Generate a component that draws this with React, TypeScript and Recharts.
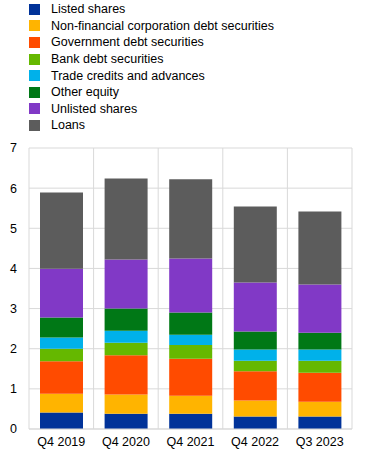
import React from "react";
import { BarChart, Bar, XAxis, YAxis, CartesianGrid, Legend } from "recharts";

const categories = ["Q4 2019", "Q4 2020", "Q4 2021", "Q4 2022", "Q3 2023"];
const listedShares = [0.41, 0.38, 0.38, 0.31, 0.31];
const nfcDebt = [0.47, 0.48, 0.45, 0.4, 0.37];
const govDebt = [0.81, 0.98, 0.92, 0.73, 0.72];
const bankDebt = [0.31, 0.31, 0.34, 0.26, 0.3];
const tradeCredits = [0.28, 0.3, 0.26, 0.28, 0.28];
const otherEquity = [0.5, 0.55, 0.55, 0.45, 0.42];
const unlistedShares = [1.21, 1.22, 1.35, 1.22, 1.2];
const loans = [1.9, 2.02, 1.97, 1.89, 1.82];
const yTicks = [0, 1, 2, 3, 4, 5, 6, 7];

const series = [
  { key: "listed", name: "Listed shares", values: listedShares, color: "#003299" },
  { key: "nfc", name: "Non-financial corporation debt securities", values: nfcDebt, color: "#FFB400" },
  { key: "gov", name: "Government debt securities", values: govDebt, color: "#FF4B00" },
  { key: "bank", name: "Bank debt securities", values: bankDebt, color: "#65B800" },
  { key: "trade", name: "Trade credits and advances", values: tradeCredits, color: "#00B1EA" },
  { key: "other", name: "Other equity", values: otherEquity, color: "#007816" },
  { key: "unlisted", name: "Unlisted shares", values: unlistedShares, color: "#8139C6" },
  { key: "loans", name: "Loans", values: loans, color: "#5C5C5C" },
];

const data = categories.map((c, i) => {
  const row: Record<string, string | number> = { cat: c };
  series.forEach((s) => {
    row[s.key] = s.values[i];
  });
  return row;
});

const FONT = "'Liberation Sans', Arial, sans-serif";

const LegendContent = () => (
  <div style={{ fontFamily: FONT, fontSize: 12.5, color: "#000", paddingTop: 1 }}>
    {series.map((s) => (
      <div key={s.key} style={{ display: "flex", alignItems: "center", height: 16.6 }}>
        <div style={{ width: 11, height: 11, background: s.color, marginLeft: 29, marginRight: 11 }} />
        <span style={{ whiteSpace: "nowrap" }}>{s.name}</span>
      </div>
    ))}
  </div>
);

export default function App() {
  return (
    <div style={{ position: "absolute", left: 0, top: 0 }}>
      <BarChart
        width={372}
        height={457}
        data={data}
        margin={{ top: 148, right: 20, bottom: 8, left: 0 }}
      >
        <CartesianGrid
          stroke="#d9d9d9"
          strokeWidth={1}
          verticalCoordinatesGenerator={({ offset }: any) =>
            categories.map((_, i) => offset.left + (i * offset.width) / categories.length).concat([offset.left + offset.width])
          }
        />
        <XAxis
          dataKey="cat"
          tickLine={false}
          axisLine={{ stroke: "#d9d9d9" }}
          height={20}
          tick={{ fontFamily: FONT, fontSize: 12.5, fill: "#000" }}
          interval={0}
        />
        <YAxis
          width={29}
          domain={[0, 7]}
          ticks={yTicks}
          tickLine={false}
          axisLine={false}
          tickMargin={6}
          tick={{ fontFamily: FONT, fontSize: 12.5, fill: "#000" }}
        />
        <Legend
          layout="horizontal"
          verticalAlign="middle"
          align="center"
          wrapperStyle={{ top: 0, left: 0, width: 372 }}
          content={<LegendContent />}
        />
        {series.map((s) => (
          <Bar
            key={s.key}
            dataKey={s.key}
            name={s.name}
            stackId="a"
            fill={s.color}
            barSize={43}
            isAnimationActive={false}
          />
        ))}
      </BarChart>
    </div>
  );
}
